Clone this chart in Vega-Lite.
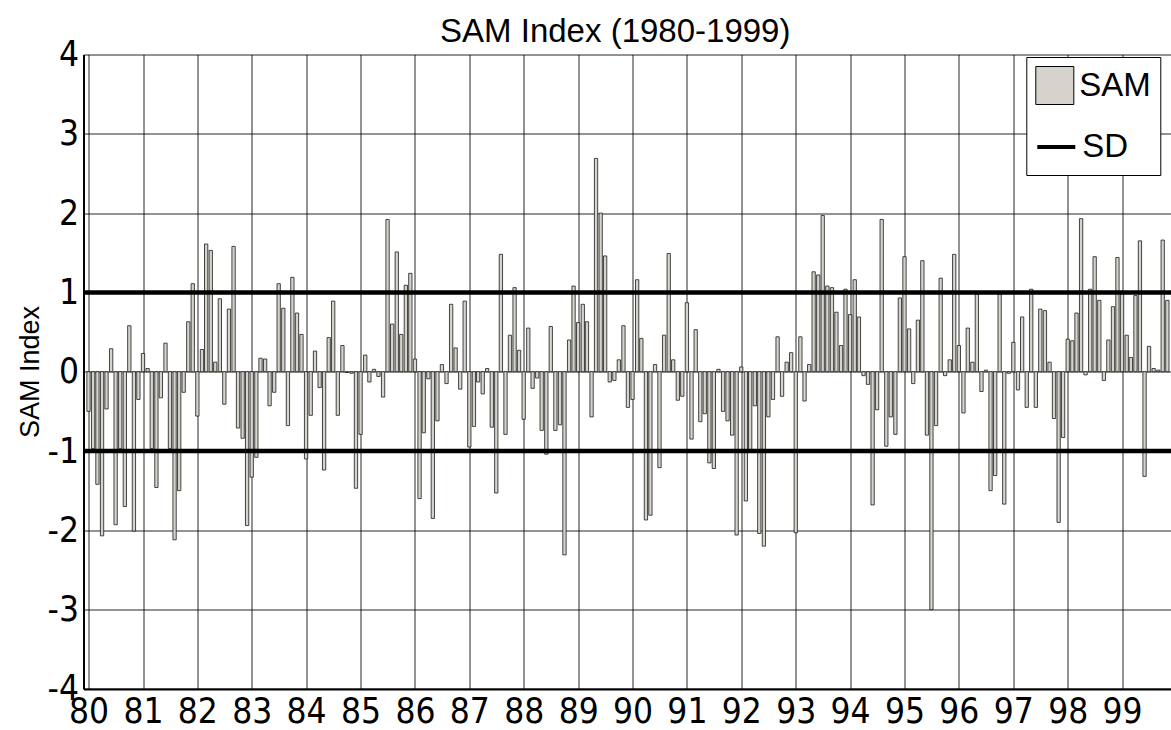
{
"$schema": "https://vega.github.io/schema/vega-lite/v6.json",
"width": 1087.5,
"height": 634.4,
"autosize": {"type": "none"},
"padding": {"left": 83.5, "top": 54.5, "right": 0, "bottom": 41.1},
"background": "white",
"title": {"text": "SAM Index (1980-1999)", "font": "Liberation Sans", "fontSize": 33, "fontWeight": "normal", "color": "#000", "anchor": "middle", "frame": "group", "offset": -11, "dx": -12},
"config": {"view": {"stroke": null}},
"layer": [
{
"data": {"values": [
{"date":"1980-01","sam":-0.5},{"date":"1980-02","sam":-0.97},{"date":"1980-03","sam":-1.42},{"date":"1980-04","sam":-2.07},{"date":"1980-05","sam":-0.47},{"date":"1980-06","sam":0.29},{"date":"1980-07","sam":-1.93},{"date":"1980-08","sam":-0.97},{"date":"1980-09","sam":-1.7},{"date":"1980-10","sam":0.58},{"date":"1980-11","sam":-2.01},{"date":"1980-12","sam":-0.35},
{"date":"1981-01","sam":0.23},{"date":"1981-02","sam":0.04},{"date":"1981-03","sam":-0.97},{"date":"1981-04","sam":-1.46},{"date":"1981-05","sam":-0.33},{"date":"1981-06","sam":0.36},{"date":"1981-07","sam":-0.97},{"date":"1981-08","sam":-2.12},{"date":"1981-09","sam":-1.5},{"date":"1981-10","sam":-0.26},{"date":"1981-11","sam":0.63},{"date":"1981-12","sam":1.11},
{"date":"1982-01","sam":-0.56},{"date":"1982-02","sam":0.28},{"date":"1982-03","sam":1.61},{"date":"1982-04","sam":1.53},{"date":"1982-05","sam":0.12},{"date":"1982-06","sam":0.92},{"date":"1982-07","sam":-0.41},{"date":"1982-08","sam":0.79},{"date":"1982-09","sam":1.58},{"date":"1982-10","sam":-0.71},{"date":"1982-11","sam":-0.84},{"date":"1982-12","sam":-1.94},
{"date":"1983-01","sam":-1.33},{"date":"1983-02","sam":-1.08},{"date":"1983-03","sam":0.17},{"date":"1983-04","sam":0.16},{"date":"1983-05","sam":-0.43},{"date":"1983-06","sam":-0.26},{"date":"1983-07","sam":1.11},{"date":"1983-08","sam":0.8},{"date":"1983-09","sam":-0.68},{"date":"1983-10","sam":1.19},{"date":"1983-11","sam":0.74},{"date":"1983-12","sam":0.47},
{"date":"1984-01","sam":-1.1},{"date":"1984-02","sam":-0.55},{"date":"1984-03","sam":0.26},{"date":"1984-04","sam":-0.2},{"date":"1984-05","sam":-1.24},{"date":"1984-06","sam":0.43},{"date":"1984-07","sam":0.89},{"date":"1984-08","sam":-0.55},{"date":"1984-09","sam":0.33},{"date":"1984-10","sam":-0.01},{"date":"1984-11","sam":-0.02},{"date":"1984-12","sam":-1.47},
{"date":"1985-01","sam":-0.79},{"date":"1985-02","sam":0.21},{"date":"1985-03","sam":-0.13},{"date":"1985-04","sam":0.03},{"date":"1985-05","sam":-0.06},{"date":"1985-06","sam":-0.32},{"date":"1985-07","sam":1.92},{"date":"1985-08","sam":0.6},{"date":"1985-09","sam":1.51},{"date":"1985-10","sam":0.47},{"date":"1985-11","sam":1.09},{"date":"1985-12","sam":1.24},
{"date":"1986-01","sam":0.16},{"date":"1986-02","sam":-1.6},{"date":"1986-03","sam":-0.77},{"date":"1986-04","sam":-0.09},{"date":"1986-05","sam":-1.85},{"date":"1986-06","sam":-0.62},{"date":"1986-07","sam":0.09},{"date":"1986-08","sam":-0.15},{"date":"1986-09","sam":0.85},{"date":"1986-10","sam":0.3},{"date":"1986-11","sam":-0.22},{"date":"1986-12","sam":0.89},
{"date":"1987-01","sam":-0.95},{"date":"1987-02","sam":-0.69},{"date":"1987-03","sam":-0.13},{"date":"1987-04","sam":-0.28},{"date":"1987-05","sam":0.04},{"date":"1987-06","sam":-0.7},{"date":"1987-07","sam":-1.53},{"date":"1987-08","sam":1.48},{"date":"1987-09","sam":-0.79},{"date":"1987-10","sam":0.46},{"date":"1987-11","sam":1.06},{"date":"1987-12","sam":0.27},
{"date":"1988-01","sam":-0.6},{"date":"1988-02","sam":0.55},{"date":"1988-03","sam":-0.21},{"date":"1988-04","sam":-0.08},{"date":"1988-05","sam":-0.74},{"date":"1988-06","sam":-1.04},{"date":"1988-07","sam":0.57},{"date":"1988-08","sam":-0.74},{"date":"1988-09","sam":-0.67},{"date":"1988-10","sam":-2.31},{"date":"1988-11","sam":0.4},{"date":"1988-12","sam":1.08},
{"date":"1989-01","sam":0.62},{"date":"1989-02","sam":0.85},{"date":"1989-03","sam":0.63},{"date":"1989-04","sam":-0.57},{"date":"1989-05","sam":2.69},{"date":"1989-06","sam":2.0},{"date":"1989-07","sam":1.46},{"date":"1989-08","sam":-0.13},{"date":"1989-09","sam":-0.11},{"date":"1989-10","sam":0.15},{"date":"1989-11","sam":0.58},{"date":"1989-12","sam":-0.45},
{"date":"1990-01","sam":-0.35},{"date":"1990-02","sam":1.16},{"date":"1990-03","sam":0.42},{"date":"1990-04","sam":-1.87},{"date":"1990-05","sam":-1.81},{"date":"1990-06","sam":0.09},{"date":"1990-07","sam":-1.21},{"date":"1990-08","sam":0.46},{"date":"1990-09","sam":1.49},{"date":"1990-10","sam":0.15},{"date":"1990-11","sam":-0.36},{"date":"1990-12","sam":-0.31},
{"date":"1991-01","sam":0.87},{"date":"1991-02","sam":-0.85},{"date":"1991-03","sam":0.53},{"date":"1991-04","sam":-0.63},{"date":"1991-05","sam":-0.53},{"date":"1991-06","sam":-1.15},{"date":"1991-07","sam":-1.22},{"date":"1991-08","sam":0.03},{"date":"1991-09","sam":-0.5},{"date":"1991-10","sam":-0.62},{"date":"1991-11","sam":-0.8},{"date":"1991-12","sam":-2.06},
{"date":"1992-01","sam":0.06},{"date":"1992-02","sam":-1.63},{"date":"1992-03","sam":-0.99},{"date":"1992-04","sam":-0.43},{"date":"1992-05","sam":-2.04},{"date":"1992-06","sam":-2.2},{"date":"1992-07","sam":-0.57},{"date":"1992-08","sam":-0.35},{"date":"1992-09","sam":0.44},{"date":"1992-10","sam":-0.31},{"date":"1992-11","sam":0.12},{"date":"1992-12","sam":0.24},
{"date":"1993-01","sam":-2.03},{"date":"1993-02","sam":0.44},{"date":"1993-03","sam":-0.37},{"date":"1993-04","sam":0.09},{"date":"1993-05","sam":1.26},{"date":"1993-06","sam":1.22},{"date":"1993-07","sam":1.97},{"date":"1993-08","sam":1.08},{"date":"1993-09","sam":1.06},{"date":"1993-10","sam":0.75},{"date":"1993-11","sam":0.33},{"date":"1993-12","sam":1.04},
{"date":"1994-01","sam":0.72},{"date":"1994-02","sam":1.16},{"date":"1994-03","sam":0.69},{"date":"1994-04","sam":-0.05},{"date":"1994-05","sam":-0.16},{"date":"1994-06","sam":-1.68},{"date":"1994-07","sam":-0.48},{"date":"1994-08","sam":1.92},{"date":"1994-09","sam":-0.94},{"date":"1994-10","sam":-0.57},{"date":"1994-11","sam":-0.79},{"date":"1994-12","sam":0.93},
{"date":"1995-01","sam":1.45},{"date":"1995-02","sam":0.54},{"date":"1995-03","sam":-0.15},{"date":"1995-04","sam":0.65},{"date":"1995-05","sam":1.4},{"date":"1995-06","sam":-0.8},{"date":"1995-07","sam":-3.0},{"date":"1995-08","sam":-0.68},{"date":"1995-09","sam":1.18},{"date":"1995-10","sam":-0.05},{"date":"1995-11","sam":0.15},{"date":"1995-12","sam":1.48},
{"date":"1996-01","sam":0.33},{"date":"1996-02","sam":-0.52},{"date":"1996-03","sam":0.55},{"date":"1996-04","sam":0.12},{"date":"1996-05","sam":0.98},{"date":"1996-06","sam":-0.25},{"date":"1996-07","sam":0.02},{"date":"1996-08","sam":-1.5},{"date":"1996-09","sam":-1.31},{"date":"1996-10","sam":0.98},{"date":"1996-11","sam":-1.67},{"date":"1996-12","sam":-0.02},
{"date":"1997-01","sam":0.37},{"date":"1997-02","sam":-0.23},{"date":"1997-03","sam":0.69},{"date":"1997-04","sam":-0.45},{"date":"1997-05","sam":1.04},{"date":"1997-06","sam":-0.45},{"date":"1997-07","sam":0.79},{"date":"1997-08","sam":0.77},{"date":"1997-09","sam":0.12},{"date":"1997-10","sam":-0.59},{"date":"1997-11","sam":-1.9},{"date":"1997-12","sam":-0.83},
{"date":"1998-01","sam":0.41},{"date":"1998-02","sam":0.39},{"date":"1998-03","sam":0.74},{"date":"1998-04","sam":1.93},{"date":"1998-05","sam":-0.04},{"date":"1998-06","sam":1.04},{"date":"1998-07","sam":1.45},{"date":"1998-08","sam":0.9},{"date":"1998-09","sam":-0.11},{"date":"1998-10","sam":0.4},{"date":"1998-11","sam":0.82},{"date":"1998-12","sam":1.44},
{"date":"1999-01","sam":0.98},{"date":"1999-02","sam":0.46},{"date":"1999-03","sam":0.18},{"date":"1999-04","sam":0.96},{"date":"1999-05","sam":1.65},{"date":"1999-06","sam":-1.32},{"date":"1999-07","sam":0.32},{"date":"1999-08","sam":0.04},{"date":"1999-09","sam":0.02},{"date":"1999-10","sam":1.66},{"date":"1999-11","sam":0.9}
]},
"mark": {"type": "bar", "width": 3.3, "stroke": "#1a1a1a", "strokeWidth": 0.8, "clip": true},
"encoding": {
"x": {"field": "date", "type": "temporal",
 "scale": {"type": "utc", "domain": [{"year": 1980, "month": 1, "date": 1, "utc": true}, {"year": 1999, "month": 10, "date": 23, "utc": true}]},
 "axis": {"title": null, "format": "%y", "tickCount": {"interval": "year", "step": 1}, "grid": true, "gridColor": "#000", "gridWidth": 1, "gridOpacity": 0.85, "ticks": false, "domainColor": "#000", "domainWidth": 2, "labelFont": "Liberation Sans Narrow, DejaVu Sans Condensed, sans-serif", "labelFontSize": 35, "labelColor": "#000", "labelPadding": 6, "labelFlush": false, "labelOverlap": false, "labelBound": false}},
"y": {"field": "sam", "type": "quantitative",
 "scale": {"domain": [-4, 4], "nice": false, "zero": false},
 "axis": {"title": "SAM Index", "values": [-4, -3, -2, -1, 0, 1, 2, 3, 4], "labelExpr": "datum.value < 0 ? '-' + abs(datum.value) : '' + datum.value", "grid": true, "gridColor": "#000", "gridWidth": 1, "gridOpacity": 0.85, "ticks": false, "domainColor": "#000", "domainWidth": 2, "labelFont": "Liberation Sans Narrow, DejaVu Sans Condensed, sans-serif", "labelFontSize": 35, "labelColor": "#000", "labelPadding": 5, "labelFlush": false, "labelOverlap": false, "titleFont": "Liberation Sans", "titleFontSize": 27, "titleFontWeight": "normal", "titleColor": "#000", "titleX": -39.5, "titleY": 317, "titleAngle": -90, "titleAlign": "center", "titleBaseline": "bottom"}},
"fill": {"datum": "SAM",
 "scale": {"domain": ["SAM"], "range": ["#d6d3cc"]},
 "legend": {"title": " ", "titleOrient": "bottom", "titleFontSize": 40, "titlePadding": 19, "orient": "none", "legendX": 942.8, "legendY": 2.5, "padding": 9, "strokeColor": "#000", "fillColor": "#fff", "symbolType": "square", "symbolSize": 1444, "symbolStrokeColor": "#000", "symbolStrokeWidth": 1, "labelFont": "Liberation Sans", "labelFontSize": 33, "labelColor": "#000", "labelOffset": 5, "labelLimit": 300, "cornerRadius": 0, "zindex": 0}}
}
},
{
"data": {"values": [{"sd": 1}, {"sd": -1}]},
"mark": {"type": "rule", "strokeWidth": 4.5},
"encoding": {"y": {"field": "sd", "type": "quantitative"},
 "stroke": {"datum": "SD",
  "scale": {"domain": ["SD"], "range": ["#000000"]},
  "legend": {"title": null, "orient": "none", "legendX": 942.8, "legendY": 62.5, "padding": 9, "strokeColor": null, "fillColor": null, "symbolType": "stroke", "symbolSize": 1444, "symbolStrokeWidth": 4, "labelFont": "Liberation Sans", "labelFontSize": 33, "labelColor": "#000", "labelOffset": 5, "labelLimit": 300, "zindex": 1}}}
}
]
}
